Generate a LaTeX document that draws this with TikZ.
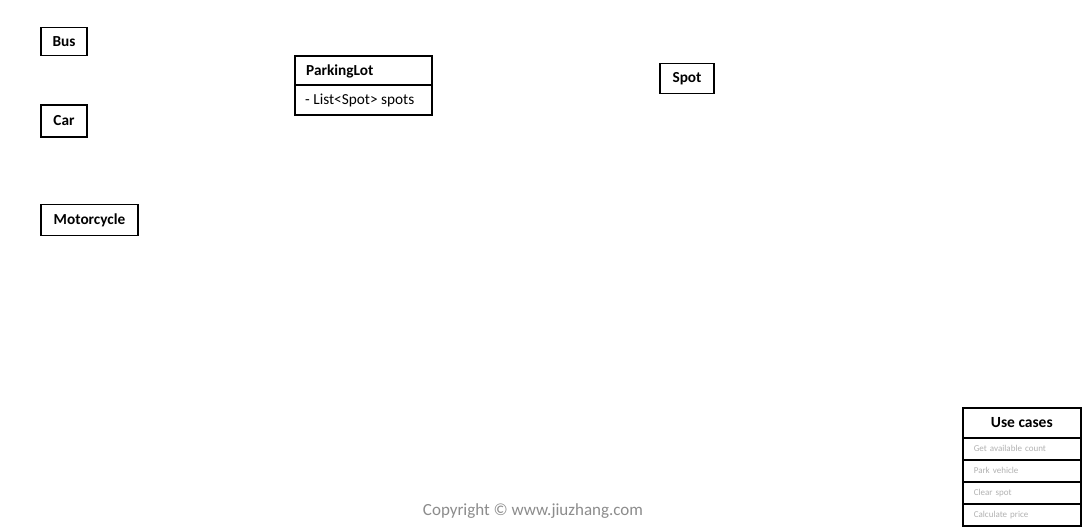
\documentclass[tikz,border=0pt]{standalone}
\usepackage{fontspec}
\setmainfont{Carlito}
\begin{document}
\begin{tikzpicture}[x=1pt,y=-1pt,
  box/.style={draw=black,line width=1.6pt,inner sep=0pt,font=\fontsize{15.3}{17}\selectfont\bfseries},
  plain/.style={inner sep=0pt,font=\fontsize{15.3}{17}\selectfont},
  ucrow/.style={draw=black,line width=1.6pt,inner sep=0pt,minimum width=118pt,minimum height=22pt,text=black!30,font=\fontsize{9}{10}\selectfont,anchor=north west,text width=96pt,align=left}
]
\useasboundingbox[fill=white] (0,0) rectangle (1084,529);
% vehicles
\node[box,minimum width=46pt,minimum height=28pt] (bus) at (64,41.5) {Bus};
\node[box,minimum width=46pt,minimum height=32pt] (car) at (64,121) {Car};
\node[box,minimum width=97pt,minimum height=31pt] (moto) at (89.5,220) {Motorcycle};
% ParkingLot
\node[box,minimum width=137pt,minimum height=29pt,anchor=north west] (pl) at (294,55) {};
\node[box,minimum width=137pt,minimum height=30pt,anchor=north west] (plattr) at (294,84) {};
\node[inner sep=0pt,font=\fontsize{15.3}{17}\selectfont\bfseries,anchor=west] (plname) at (306,71) {ParkingLot};
\node[plain,anchor=west] (plspots) at (305,100.5) {- List<Spot> spots};
% Spot
\node[box,minimum width=54pt,minimum height=30pt] (spot) at (687,78.5) {Spot};
% Use cases
\node[box,minimum width=118pt,minimum height=30pt,anchor=north west,font=\fontsize{15.5}{17}\selectfont\bfseries] (uc) at (962,407) {Use cases};
\node[ucrow] (uc1) at (962,437) {Get available count};
\node[ucrow] (uc2) at (962,459) {Park vehicle};
\node[ucrow] (uc3) at (962,481) {Clear spot};
\node[ucrow] (uc4) at (962,503) {Calculate price};
% copyright
\node[inner sep=0pt,text=black!45,font=\fontsize{17}{19}\selectfont] (copy) at (533,511) {Copyright © www.jiuzhang.com};
\end{tikzpicture}
\end{document}
